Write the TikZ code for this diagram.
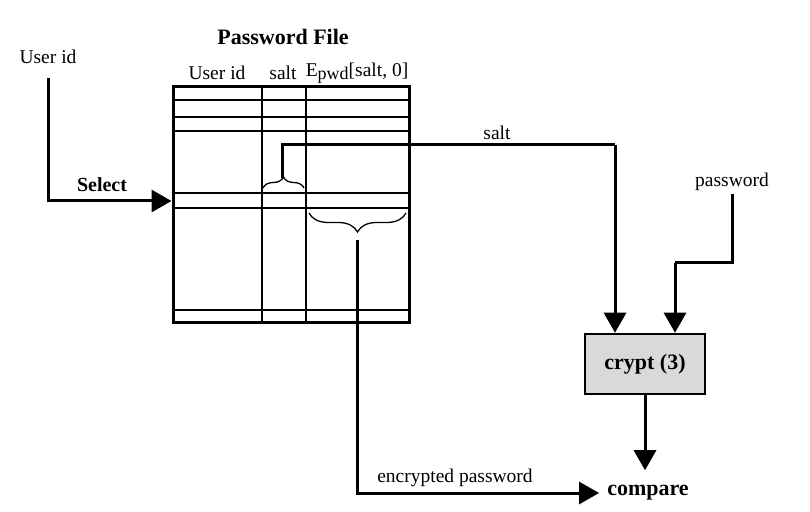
\documentclass[tikz,border=0pt]{standalone}
\usepackage{fontspec}
\setmainfont{Liberation Serif}
\usetikzlibrary{arrows.meta,decorations.pathreplacing}
\tikzset{
    lbl/.style={inner sep=1pt,font=\fontsize{19.5}{22}\selectfont},
    blbl/.style={inner sep=1pt,font=\fontsize{22}{25}\selectfont\bfseries},
    flow/.style={line width=3pt,-{Triangle[length=20pt,width=22pt]}},
    wire/.style={line width=3pt},
    brc/.style={line width=1.3pt,decorate,decoration={brace,amplitude=#1}}
}
\begin{document}
\begin{tikzpicture}[x=1pt,y=1pt]
    \useasboundingbox (0,0) rectangle (810,511);
    % password file table
    \node (pwfile) [draw,line width=3pt,minimum width=236pt,minimum height=236pt,inner sep=0pt] at (291,306) {};
    \foreach \r in {411,394,380,318,303,201}
        \draw[line width=1.3pt] (pwfile.west |- 0,\r) -- (pwfile.east |- 0,\r);
    \foreach \c in {262,306}
        \draw[line width=1.3pt] (pwfile.north -| \c,0) -- (pwfile.south -| \c,0);
    \node (title) [blbl] at (283,474) {Password File};
    \node (hduser) [lbl] at (217,438) {User id};
    \node (hdsalt) [lbl] at (283,438) {salt};
    \node (hdepwd) [lbl] at (357,438) {E\raisebox{-0.3ex}{\fontsize{18}{20}\selectfont pwd}[salt, 0]};
    % braces
    \draw[brc=11pt] (263,323) -- (304,323);
    \draw[brc=19pt] (406,298) -- (309,298);
    \coordinate (salttip) at (282,333);
    \coordinate (enctip) at (357,271);
    % select
    \node (userid) [lbl] at (48,454) {User id};
    \node (select) [blbl,font=\fontsize{20}{24}\selectfont\bfseries] at (102,326) {Select};
    \coordinate (selrow) at (52,310);
    \draw[flow] ([yshift=-13pt]userid.south) |- (pwfile.west |- selrow);
    % crypt
    \node (crypt) [draw,line width=2.5pt,fill=gray!30,minimum width=120pt,minimum height=60pt,blbl] at (645,147) {crypt (3)};
    \node (saltlbl) [lbl] at (497,378) {salt};
    \coordinate (saltbend) at (615,366);
    \draw[wire] (salttip) |- (saltbend);
    \draw[flow] (saltbend) -- (saltbend |- crypt.north);
    \node (pw) [lbl] at (732,329) {password};
    \coordinate (pwbend) at (675,248);
    \draw[wire] ([yshift=-2pt]pw.south) |- (pwbend);
    \draw[flow] (pwbend) -- (pwbend |- crypt.north);
    % compare
    \node (compare) [blbl] at (648,18) {compare};
    \draw[flow,shorten >=14pt] (crypt.south) -- (crypt.south |- compare.north);
    \node (encpw) [lbl] at (455,33) {encrypted password};
    \draw[flow,shorten >=7pt] (enctip) |- (compare.west);
\end{tikzpicture}
\end{document}
